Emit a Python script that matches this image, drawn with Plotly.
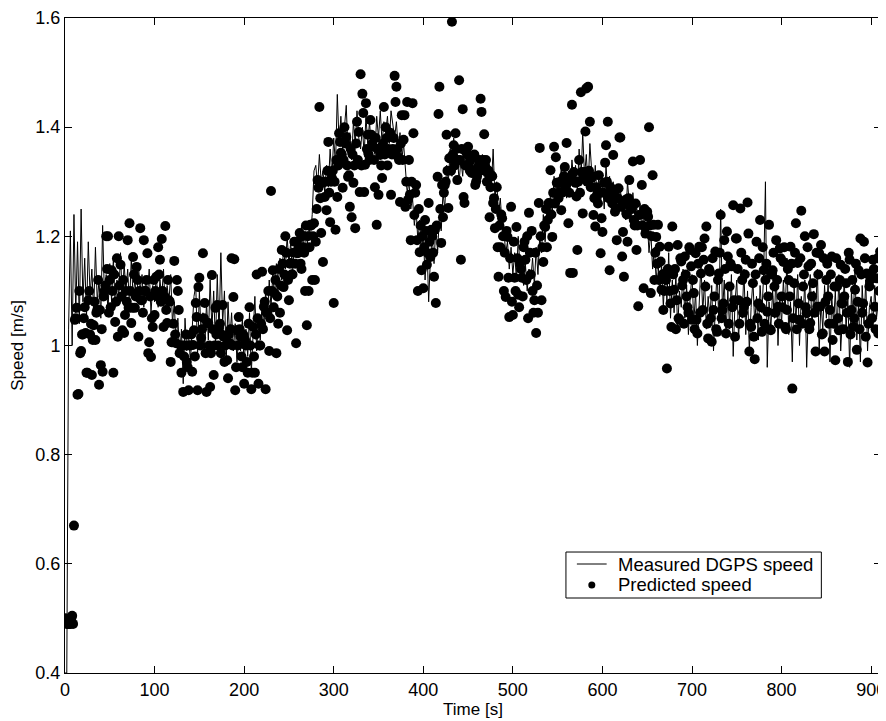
import plotly.graph_objects as go

# ---------------- data ----------------
# sample times (s)
time_s = list(range(0, 912, 2))          # even seconds
time_odd_s = list(range(1, 911, 2))      # odd seconds

# Measured DGPS speed [m/s] (at even seconds)
measured_speed = [
    0.40, 0.40, 1.03, 1.21, 1.00,
    1.24, 1.06, 1.19, 1.04, 1.25,
    1.08, 1.16, 1.05, 1.19, 1.09,
    1.14, 1.06, 1.18, 1.08, 1.12,
    1.05, 1.22, 1.09, 1.13, 1.06,
    1.15, 1.08, 1.16, 1.07, 1.12,
    1.09, 1.17, 1.08, 1.15, 1.10,
    1.14, 1.07, 1.16, 1.09, 1.12,
    1.08, 1.15, 1.10, 1.13, 1.07,
    1.12, 1.09, 1.14, 1.06, 1.11,
    1.08, 1.13, 1.07, 1.12, 1.09,
    1.14, 1.06, 1.11, 1.08, 1.13,
    1.04, 1.08, 1.00, 1.05, 0.98,
    1.03, 0.93, 1.05, 0.99, 1.02,
    0.97, 1.04, 1.09, 1.11, 0.98,
    1.10, 1.02, 1.06, 0.99, 1.08,
    1.01, 1.12, 1.03, 1.10, 1.00,
    1.13, 1.02, 1.17, 1.04, 1.10,
    0.97, 1.08, 1.01, 1.06, 0.99,
    1.04, 0.97, 1.02, 0.99, 1.05,
    0.96, 1.03, 0.98, 1.06, 0.95,
    1.02, 1.09, 0.99, 1.05, 1.01,
    1.08, 1.03, 1.10, 1.05, 1.12,
    1.07, 1.13, 1.09, 1.15, 1.11,
    1.16, 1.12, 1.18, 1.14, 1.20,
    1.15, 1.19, 1.13, 1.18, 1.16,
    1.20, 1.17, 1.22, 1.18, 1.21,
    1.17, 1.22, 1.20, 1.24, 1.32,
    1.33, 1.29, 1.35, 1.30, 1.32,
    1.28, 1.33, 1.29, 1.36, 1.31,
    1.38, 1.33, 1.46, 1.37, 1.42,
    1.36, 1.40, 1.44, 1.35, 1.39,
    1.34, 1.41, 1.37, 1.43, 1.38,
    1.36, 1.40, 1.35, 1.42, 1.37,
    1.41, 1.36, 1.39, 1.35, 1.42,
    1.38, 1.43, 1.37, 1.41, 1.39,
    1.42, 1.37, 1.43, 1.40, 1.38,
    1.41, 1.36, 1.39, 1.34, 1.37,
    1.32, 1.28, 1.30, 1.25, 1.27,
    1.22, 1.25, 1.19, 1.23, 1.17,
    1.21, 1.12, 1.19, 1.08, 1.16,
    1.20, 1.15, 1.22, 1.17, 1.24,
    1.21, 1.28, 1.25, 1.33, 1.30,
    1.36, 1.31, 1.38, 1.33, 1.35,
    1.30, 1.34, 1.31, 1.36, 1.32,
    1.35, 1.31, 1.34, 1.30, 1.33,
    1.29, 1.33, 1.30, 1.35, 1.31,
    1.34, 1.30, 1.33, 1.29, 1.36,
    1.27, 1.30, 1.24, 1.27, 1.22,
    1.21, 1.17, 1.19, 1.14, 1.18,
    1.13, 1.17, 1.12, 1.20, 1.14,
    1.16, 1.11, 1.15, 1.10, 1.14,
    1.12, 1.16, 1.11, 1.18, 1.13,
    1.20, 1.17, 1.24, 1.19, 1.25,
    1.22, 1.28, 1.24, 1.31, 1.27,
    1.30, 1.26, 1.33, 1.28, 1.31,
    1.27, 1.32, 1.29, 1.34, 1.30,
    1.33, 1.28, 1.36, 1.30, 1.39,
    1.31, 1.35, 1.29, 1.37, 1.32,
    1.28, 1.33, 1.27, 1.31, 1.26,
    1.30, 1.25, 1.33, 1.28, 1.31,
    1.27, 1.30, 1.24, 1.28, 1.25,
    1.29, 1.24, 1.27, 1.23, 1.30,
    1.25, 1.22, 1.28, 1.24, 1.26,
    1.22, 1.26, 1.21, 1.24, 1.20,
    1.23, 1.17, 1.21, 1.14, 1.18,
    1.12, 1.16, 1.09, 1.15, 1.07,
    1.14, 1.08, 1.17, 1.05, 1.12,
    1.06, 1.13, 1.03, 1.10, 1.07,
    1.14, 1.05, 1.11, 1.02, 1.09,
    1.13, 1.04, 1.10, 1.00, 1.08,
    1.15, 1.06, 1.12, 1.03, 1.09,
    1.05, 1.11, 0.99, 1.08, 1.14,
    1.04, 1.25, 1.06, 1.12, 1.02,
    1.10, 1.03, 1.13, 0.98, 1.08,
    1.12, 1.01, 1.09, 1.05, 1.14,
    1.02, 1.10, 0.99, 1.07, 1.12,
    1.04, 1.09, 1.01, 1.11, 1.06,
    1.13, 1.30, 0.96, 1.08, 1.03,
    1.10, 1.05, 1.14, 1.00, 1.09,
    1.04, 1.12, 1.06, 1.16, 1.02,
    1.08, 0.97, 1.11, 1.04, 1.13,
    1.00, 1.09, 1.05, 1.12, 0.96,
    1.07, 1.13, 1.03, 1.10, 1.06,
    1.14, 0.99, 1.08, 1.03, 1.11,
    1.05, 1.12, 0.97, 1.09, 1.04,
    1.10, 1.02, 1.13, 0.99, 1.07,
    1.12, 1.03, 1.09, 0.96, 1.10,
    1.05, 1.14, 1.01, 1.08, 0.97,
    1.11, 1.04, 1.12, 0.99, 1.07,
    1.09, 1.03, 1.11, 1.05, 1.08,
    1.06,
]

# Predicted speed [m/s] at even seconds
predicted_speed_even = [
    0.50, 0.49, 0.49, 0.49, 0.505,
    0.67, 1.05, 0.91, 1.10, 0.99,
    1.02, 1.07, 0.95, 1.083, 1.02,
    0.946, 1.037, 1.01, 1.065, 0.928,
    0.964, 0.952, 1.10, 1.20, 1.20,
    1.12, 1.138, 0.95, 1.043, 1.16,
    1.20, 1.148, 1.028, 1.023, 1.10,
    1.193, 1.224, 1.041, 1.162, 1.069,
    1.144, 1.016, 1.215, 1.083, 1.193,
    1.10, 1.169, 1.006, 0.979, 1.034,
    1.056, 1.126, 1.18, 1.157, 1.195,
    1.034, 1.219, 1.041, 1.083, 0.97,
    1.006, 1.155, 1.004, 1.10, 0.986,
    0.95, 0.915, 1.00, 0.97, 0.918,
    1.00, 0.952, 1.028, 1.078, 0.918,
    1.124, 1.014, 1.169, 1.078, 0.915,
    1.041, 0.924, 1.129, 0.946, 1.069,
    1.074, 1.032, 0.986, 1.074, 0.97,
    1.016, 0.94, 1.004, 1.16, 1.089,
    0.918, 1.028, 1.052, 1.016, 0.96,
    0.93, 1.00, 0.95, 1.07, 0.92,
    1.034, 0.95, 1.13, 0.93, 1.00,
    1.135, 1.071, 0.92, 1.06, 0.99,
    1.283, 1.138, 1.096, 0.986, 1.04,
    1.06, 1.175, 1.107, 1.20, 1.028,
    1.083, 1.151, 1.13, 1.19, 1.004,
    1.169, 1.206, 1.14, 1.18, 1.10,
    1.037, 1.10, 1.221, 1.12, 1.224,
    1.19, 1.303, 1.437, 1.206, 1.153,
    1.272, 1.248, 1.373, 1.226, 1.307,
    1.078, 1.212, 1.272, 1.389, 1.353,
    1.289, 1.40, 1.382, 1.309, 1.254,
    1.235, 1.298, 1.215, 1.41, 1.391,
    1.497, 1.461, 1.281, 1.444, 1.386,
    1.34, 1.386, 1.364, 1.29, 1.221,
    1.276, 1.349, 1.307, 1.437, 1.40,
    1.33, 1.382, 1.276, 1.36, 1.494,
    1.474, 1.345, 1.263, 1.422, 1.377,
    1.254, 1.446, 1.34, 1.193, 1.444,
    1.239, 1.294, 1.10, 1.171, 1.138,
    1.105, 1.23, 1.148, 1.261, 1.162,
    1.20, 1.126, 1.078, 1.309, 1.474,
    1.188, 1.235, 1.294, 1.386, 1.252,
    1.343, 1.593, 1.367, 1.389, 1.303,
    1.486, 1.157, 1.433, 1.261, 1.354,
    1.364, 1.32, 1.316, 1.345, 1.294,
    1.31, 1.33, 1.452, 1.321, 1.387,
    1.34, 1.316, 1.235, 1.312, 1.261,
    1.215, 1.29, 1.126, 1.18, 1.233,
    1.10, 1.089, 1.199, 1.052, 1.254,
    1.056, 1.124, 1.217, 1.093, 1.15,
    1.124, 1.18, 1.157, 1.20, 1.243,
    1.13, 1.10, 1.083, 1.023, 1.06,
    1.362, 1.083, 1.153, 1.217, 1.18,
    1.261, 1.321, 1.199, 1.364, 1.345,
    1.298, 1.281, 1.248, 1.30, 1.327,
    1.371, 1.224, 1.133, 1.441, 1.318,
    1.298, 1.175, 1.34, 1.464, 1.242,
    1.318, 1.471, 1.474, 1.41, 1.307,
    1.239, 1.218, 1.276, 1.312, 1.169,
    1.208, 1.298, 1.367, 1.41, 1.138,
    1.276, 1.349, 1.245, 1.193, 1.288,
    1.381, 1.163, 1.126, 1.267, 1.19,
    1.303, 1.254, 1.337, 1.22, 1.175,
    1.072, 1.34, 1.294, 1.105, 1.205,
    1.245, 1.40, 1.096, 1.312, 1.12,
    1.199, 1.221, 1.181, 1.102, 1.065,
    1.132, 0.958, 1.181, 1.077, 1.218,
    1.102, 1.03, 1.184, 1.047, 1.154,
    1.12, 1.163, 1.09, 1.06, 1.175,
    1.047, 1.096, 1.169, 1.022, 1.181,
    1.132, 1.065, 1.196, 1.218, 1.013,
    1.135, 1.007, 1.065, 1.172, 1.025,
    1.132, 1.239, 1.065, 1.193, 1.022,
    1.163, 1.108, 1.145, 1.257, 1.016,
    1.196, 1.083, 1.251, 1.12, 1.071,
    1.157, 1.262, 0.989, 1.034, 1.114,
    0.975, 1.19, 1.077, 1.23, 1.025,
    1.138, 1.12, 1.062, 1.221, 1.028,
    1.138, 1.108, 1.193, 1.071, 1.178,
    1.09, 1.153, 1.034, 1.065, 1.12,
    1.181, 0.921, 1.114, 1.224, 1.151,
    1.047, 1.247, 1.108, 1.20, 1.059,
    1.145, 1.041, 1.09, 1.204, 0.989,
    1.071, 1.169, 1.184, 1.022, 0.989,
    1.12, 1.09, 1.065, 1.163, 1.04,
    0.973, 1.108, 1.028, 1.148, 1.077,
    1.09, 1.114, 0.97, 1.157, 1.065,
    1.034, 1.102, 0.992, 1.138, 1.196,
    1.06, 1.19, 1.016, 0.969, 1.108,
    1.132, 1.157, 1.071, 1.123, 1.022,
    1.172,
]

# Predicted speed [m/s] at odd seconds
predicted_speed_odd = [
    0.50, 0.49, 0.49, 0.50, 0.49,
    1.047, 1.069, 0.911, 0.986, 1.02,
    1.05, 1.023, 0.95, 1.10, 1.04,
    1.01, 1.08, 1.06, 1.12, 1.065,
    1.03, 1.09, 1.11, 1.14, 1.06,
    1.07, 1.10, 1.13, 1.08, 1.016,
    1.11, 1.09, 1.12, 1.056, 1.08,
    1.069, 1.10, 1.069, 1.13, 1.09,
    1.12, 1.10, 1.083, 1.06, 1.10,
    1.12, 0.986, 1.09, 1.05, 1.12,
    1.10, 1.09, 1.13, 1.08, 1.10,
    1.09, 1.065, 1.12, 1.08, 1.006,
    1.04, 1.02, 1.12, 1.065, 1.00,
    1.00, 0.98, 1.02, 0.96, 1.00,
    1.02, 1.001, 0.98, 1.052, 1.107,
    1.00, 1.03, 1.05, 0.986, 1.041,
    1.00, 0.986, 1.03, 1.00, 1.02,
    1.00, 1.04, 1.02, 1.016, 1.00,
    0.973, 1.02, 1.03, 1.00, 1.158,
    0.96, 1.00, 1.03, 0.98, 1.02,
    1.01, 0.97, 1.04, 1.00, 0.95,
    0.98, 1.02, 1.05, 1.00, 1.04,
    1.03, 1.08, 1.06, 1.10, 1.05,
    1.10, 1.07, 1.12, 1.09, 1.14,
    1.11, 1.15, 1.13, 1.17, 1.12,
    1.15, 1.13, 1.17, 1.15, 1.19,
    1.18, 1.15, 1.20, 1.17, 1.22,
    1.20, 1.18, 1.22, 1.20, 1.12,
    1.25, 1.289, 1.27, 1.298, 1.30,
    1.30, 1.32, 1.28, 1.30, 1.32,
    1.30, 1.34, 1.33, 1.373, 1.35,
    1.34, 1.37, 1.33, 1.312, 1.36,
    1.35, 1.33, 1.37, 1.34, 1.281,
    1.33, 1.426, 1.331, 1.36, 1.35,
    1.413, 1.37, 1.34, 1.38, 1.36,
    1.36, 1.33, 1.37, 1.35, 1.38,
    1.36, 1.39, 1.35, 1.38, 1.446,
    1.36, 1.34, 1.37, 1.34, 1.422,
    1.30, 1.267, 1.276, 1.30, 1.389,
    1.28, 1.193, 1.25, 1.22, 1.20,
    1.18, 1.21, 1.169, 1.19, 1.212,
    1.17, 1.212, 1.22, 1.424, 1.25,
    1.294, 1.28, 1.30, 1.32, 1.343,
    1.32, 1.35, 1.33, 1.36, 1.34,
    1.34, 1.36, 1.272, 1.33, 1.35,
    1.33, 1.34, 1.32, 1.35, 1.30,
    1.32, 1.34, 1.428, 1.34, 1.33,
    1.30, 1.32, 1.29, 1.31, 1.27,
    1.25, 1.18, 1.22, 1.24, 1.20,
    1.17, 1.21, 1.124, 1.16, 1.08,
    1.19, 1.10, 1.16, 1.07, 1.14,
    1.09, 1.19, 1.12, 1.05, 1.17,
    1.21, 1.06, 1.17, 1.11, 1.261,
    1.20, 1.18, 1.22, 1.25, 1.23,
    1.26, 1.24, 1.28, 1.26, 1.298,
    1.27, 1.30, 1.28, 1.31, 1.29,
    1.30, 1.28, 1.31, 1.133, 1.30,
    1.273, 1.30, 1.28, 1.318, 1.31,
    1.392, 1.30, 1.32, 1.29, 1.31,
    1.27, 1.29, 1.26, 1.28, 1.233,
    1.28, 1.335, 1.30, 1.27, 1.29,
    1.26, 1.28, 1.25, 1.27, 1.381,
    1.254, 1.208, 1.26, 1.24, 1.27,
    1.254, 1.25, 1.23, 1.26, 1.22,
    1.239, 1.24, 1.22, 1.25, 1.245,
    1.236, 1.22, 1.20, 1.221, 1.17,
    1.15, 1.12, 1.154, 1.13, 1.10,
    1.12, 1.14, 1.10, 1.034, 1.13,
    1.14, 1.083, 1.05, 1.16, 1.11,
    1.04, 1.13, 1.07, 1.18, 1.145,
    1.12, 1.03, 1.047, 1.15, 1.06,
    1.18, 1.157, 1.108, 1.04, 1.14,
    1.05, 1.16, 1.09, 1.03, 1.12,
    1.17, 1.05, 1.077, 1.14, 1.209,
    1.04, 1.15, 1.07, 1.083, 1.196,
    1.14, 1.04, 1.17, 1.06, 1.13,
    1.08, 1.205, 1.04, 1.15, 1.016,
    1.13, 1.05, 1.16, 1.07, 1.18,
    1.04, 1.15, 1.09, 1.03, 1.13,
    1.17, 1.06, 1.12, 1.04, 1.16,
    1.07, 1.18, 1.03, 1.14, 1.09,
    1.15, 1.05, 1.17, 1.03, 1.077,
    1.16, 1.04, 1.13, 1.07, 1.18,
    1.03, 1.15, 1.114, 1.06, 1.17,
    1.13, 1.071, 1.02, 1.16, 1.08,
    1.15, 1.04, 1.13, 1.01, 1.108,
    1.16, 1.05, 1.12, 1.077, 1.03,
    1.14, 1.06, 1.17, 1.02, 1.12,
    1.05, 1.15, 1.08, 1.03, 1.13,
    1.077, 1.16, 1.132, 1.04, 1.12,
    1.05, 1.14, 1.03, 1.16, 1.10,
]

x_ticks = [0, 100, 200, 300, 400, 500, 600, 700, 800, 900]
y_ticks = [0.4, 0.6, 0.8, 1.0, 1.2, 1.4, 1.6]
y_tick_labels = ["0.4", "0.6", "0.8", "1", "1.2", "1.4", "1.6"]

series_names = ["Measured DGPS speed", "Predicted speed"]

# merge predicted samples in time order
pred_pairs = sorted(zip(time_s + time_odd_s, predicted_speed_even + predicted_speed_odd))
pred_t = [p[0] for p in pred_pairs]
pred_v = [p[1] for p in pred_pairs]

# ---------------- figure ----------------
FONT = "Liberation Sans, Arial, Helvetica, sans-serif"

fig = go.Figure()

fig.add_trace(go.Scatter(
    x=time_s, y=measured_speed, mode="lines", name=series_names[0],
    line=dict(color="black", width=1),
    showlegend=False, hoverinfo="skip",
))
fig.add_trace(go.Scatter(
    x=pred_t, y=pred_v, mode="markers", name=series_names[1],
    marker=dict(color="black", size=10, line=dict(width=0)),
    showlegend=False, hoverinfo="skip",
))

axis_common = dict(
    showgrid=False, zeroline=False,
    showline=True, linecolor="black", linewidth=1,
    mirror="ticks", ticks="inside", ticklen=7, tickwidth=1,
    tickcolor="black",
    tickfont=dict(family=FONT, size=18, color="black"),
    ticklabeloverflow="allow",
)

# legend box (drawn as shapes + text, paper coordinates)
LX0, LX1, LY0, LY1 = 0.6139, 0.9269, 0.1145, 0.1847
ROW1, ROW2 = 0.1664, 0.1344
shapes = [
    dict(type="rect", xref="paper", yref="paper", x0=LX0, x1=LX1, y0=LY0, y1=LY1,
         line=dict(color="black", width=1), fillcolor="white", layer="above"),
    dict(type="line", xref="paper", yref="paper", x0=0.6273, x1=0.6638, y0=ROW1, y1=ROW1,
         line=dict(color="black", width=1), layer="above"),
    dict(type="circle", xref="paper", yref="paper", xsizemode="pixel", ysizemode="pixel",
         xanchor=0.6456, yanchor=ROW2, x0=-3.5, x1=3.5, y0=-3.5, y1=3.5,
         line=dict(color="black", width=0), fillcolor="black", layer="above"),
]
annotations = [
    dict(xref="paper", yref="paper", x=0.6755, y=ROW1, xanchor="left", yanchor="middle",
         text=series_names[0], showarrow=False,
         font=dict(family=FONT, size=18.5, color="black")),
    dict(xref="paper", yref="paper", x=0.6755, y=ROW2, xanchor="left", yanchor="middle",
         text=series_names[1], showarrow=False,
         font=dict(family=FONT, size=18.5, color="black")),
]

fig.update_layout(
    width=878, height=713,
    margin=dict(l=57, r=0, t=10, b=48),
    paper_bgcolor="white", plot_bgcolor="white",
    font=dict(family=FONT, size=18, color="black"),
    showlegend=False,
    xaxis=dict(
        range=[0, 911], tickvals=x_ticks,
        title=dict(text="Time [s]", font=dict(family=FONT, size=17, color="black"), standoff=0),
        **axis_common,
    ),
    yaxis=dict(
        range=[0.4, 1.6], tickvals=y_ticks, ticktext=y_tick_labels,
        title=dict(text="Speed [m/s]", font=dict(family=FONT, size=17, color="black"), standoff=10),
        **axis_common,
    ),
    shapes=shapes,
    annotations=annotations,
)

fig.write_html("out.html")
